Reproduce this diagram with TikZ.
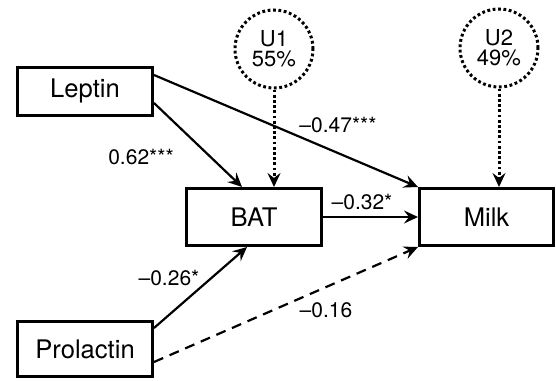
\documentclass[tikz,border=0pt]{standalone}
\usepackage{fontspec}
\setmainfont{TeX Gyre Heros}
\usetikzlibrary{arrows.meta,calc,positioning}

\begin{document}
\begin{tikzpicture}[
    x=0.5pt, y=-0.5pt,
    box/.style={draw, line width=1.5pt, inner sep=0pt, minimum width=67.5pt, minimum height=24pt, font=\fontsize{12.8}{14}\selectfont},
    latent/.style={draw, circle, line width=1.5pt, dash pattern=on 1.4pt off 1.3pt, inner sep=0pt, minimum size=39pt, align=center, font=\fontsize{11}{10}\selectfont},
    arrow/.style={-{Stealth[length=7pt, width=6.5pt, inset=2.5pt]}, line width=1.1pt},
    dotarrow/.style={arrow, line width=1.5pt, dash pattern=on 1.4pt off 1.2pt},
    dasharrow/.style={arrow, dash pattern=on 5pt off 3.5pt},
    coef/.style={font=\fontsize{10.5}{12}\selectfont, inner sep=0pt}
]
    \useasboundingbox (0,0) rectangle (556,380);

    % observed variables
    \node[box] (lep) at (85,91) {Leptin};
    \node[box, minimum height=28.5pt] (bat) at (254,217) {BAT};
    \node[box, minimum height=28.5pt, minimum width=67pt] (milk) at (486.5,217) {Milk};
    \node[box, minimum height=27.5pt] (pro) at (85,349) {Prolactin};

    % residuals
    \node[latent] (u1) at (274,49) {U1\\55\%};
    \node[latent] (u2) at (499,48) {U2\\49\%};

    % paths
    \draw[arrow] ($(lep.east)+(0,12)$) -- ($(bat.north)+(-12,0)$);
    \draw[arrow] ($(lep.east)+(0,-16)$) -- (milk.north west);
    \draw[arrow] (bat.east) -- (milk.west);
    \draw[arrow] ($(pro.east)+(0,-21)$) -- ($(bat.south)+(-7,0)$);
    \draw[dasharrow] ($(pro.east)+(0,13)$) -- (milk.south west);
    \draw[dotarrow] (u1.south) -- (u1 |- bat.north);
    \draw[dotarrow] (u2.south) -- (u2 |- milk.north);

    % coefficients
    \node[coef] at (141,157) {0.62***};
    \node[coef] at (338,125) {\textendash0.47***};
    \node[coef] at (362,202) {\textendash0.32*};
    \node[coef] at (169,278) {\textendash0.26*};
    \node[coef] at (326,310) {\textendash0.16};
\end{tikzpicture}
\end{document}
